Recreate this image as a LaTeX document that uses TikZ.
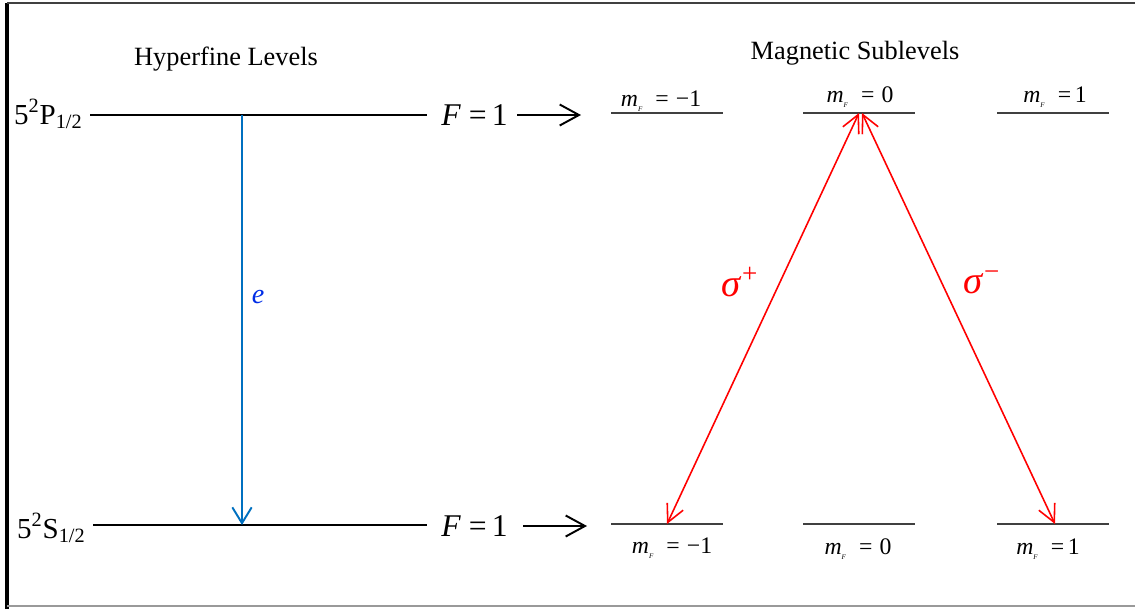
\documentclass[tikz,border=0pt]{standalone}
\usepackage{fontspec}
\setmainfont{Liberation Serif}
\usetikzlibrary{arrows.meta}

\definecolor{eblue}{RGB}{0,112,192}
\definecolor{sigred}{RGB}{255,0,0}

% m_F with its tiny subscript
\newcommand{\mF}{\textit{m}\raisebox{-0.55ex}{\fontsize{4}{4}\selectfont\textit{F}}}

\tikzset{
  level/.style={line width=1.2pt, black},
  sublevel/.style={line width=1.3pt, black!75},
  maplabel/.style={font=\fontsize{18}{20}\selectfont, inner sep=0pt, anchor=base west},
  mlabel/.style={font=\fontsize{13.5}{15}\selectfont, inner sep=0pt, anchor=base},
  statelabel/.style={font=\fontsize{16.5}{18}\selectfont, inner sep=0pt, anchor=base east},
  maparrow/.style={line width=1.1pt, -{Straight Barb[length=11pt,width=12pt]}},
  decay/.style={eblue, line width=1.1pt, -{Straight Barb[length=9pt,width=11pt]}},
  pump/.style={sigred, line width=0.9pt, {Straight Barb[length=10pt,width=10pt]}-{Straight Barb[length=10pt,width=10pt]}}
}

\begin{document}
\begin{tikzpicture}[x=0.02cm, y=-0.02cm]
        \useasboundingbox (0,0) rectangle (1135,609);

        % === FRAME ===
        \draw[line width=1.8pt] (7,609) -- (7,3);
        \draw[line width=1.1pt, black!75] (7,3) -- (1135,3);
        \draw[line width=1.1pt, black!40] (7,606) -- (1135,606);

        % === TITLES ===
        \node[font=\fontsize{15}{17}\selectfont] (hftitle) at (226,59) {Hyperfine Levels};
        \node[font=\fontsize{15}{17}\selectfont] (mstitle) at (855,53) {Magnetic Sublevels};

        % === HYPERFINE LEVELS ===
        \coordinate (pleft) at (90,115);
        \coordinate (pright) at (427,115);
        \coordinate (sleft) at (93,525);
        \coordinate (sright) at (427,525);
        \draw[level] (pleft) -- (pright);
        \draw[level] (sleft) -- (sright);
        \node[statelabel] (plabel) at (83,124) {5\textsuperscript{2}P\textsubscript{1/2}};
        \node[statelabel] (slabel) at (86,538) {5\textsuperscript{2}S\textsubscript{1/2}};

        % === DECAY ===
        \coordinate (etop) at (242,115);
        \coordinate (ebot) at (242,525);
        \draw[decay] (etop) -- (ebot);
        \node[eblue!40!blue, font=\fontsize{16}{18}\selectfont\itshape] (elabel) at (258,297) {e};

        % === F = 1 ===
        \node[maplabel] (fup) at (441,125) {\textit{F} =\,1};
        \node[maplabel] (fdown) at (441,536) {\textit{F} =\,1};
        \coordinate (aupstart) at (517,115);
        \coordinate (aupend) at (581,115);
        \coordinate (adownstart) at (523,526);
        \coordinate (adownend) at (587,526);
        \draw[maparrow] (aupstart) -- (aupend);
        \draw[maparrow] (adownstart) -- (adownend);

        % === MAGNETIC SUBLEVELS ===
        \foreach \xa/\xb/\name in {611/723/m, 803/915/z, 997/1109/p}{
            \draw[sublevel] (\xa,113) coordinate (up\name l) -- (\xb,113) coordinate (up\name r);
            \draw[sublevel] (\xa,524) coordinate (dn\name l) -- (\xb,524) coordinate (dn\name r);
        }
        \node[mlabel] (upmlab) at (661,106) {\mF\hspace{0.55em}=\hspace{0.3em}−1};
        \node[mlabel] (upzlab) at (860,102) {\mF\hspace{0.55em}=\hspace{0.3em}0};
        \node[mlabel] (upplab) at (1055,102) {\mF\hspace{0.55em}=\hspace{0.15em}1};
        \node[mlabel] (dnmlab) at (672,553) {\mF\hspace{0.55em}=\hspace{0.3em}−1};
        \node[mlabel] (dnzlab) at (858,554) {\mF\hspace{0.55em}=\hspace{0.3em}0};
        \node[mlabel] (dnplab) at (1048,554) {\mF\hspace{0.55em}=\hspace{0.15em}1};

        % === PUMPING ===
        \coordinate (topa) at (859,113);
        \coordinate (topb) at (862,113);
        \coordinate (botm) at (667,524);
        \coordinate (botp) at (1055,524);
        \draw[pump] (topa) -- (botm);
        \draw[pump] (topb) -- (botp);
        \node[sigred, font=\fontsize{22}{24}\selectfont] (sigp) at (740,282) {\textit{σ}\textsuperscript{+}};
        \node[sigred, font=\fontsize{22}{24}\selectfont] (sigm) at (982,282) {\textit{σ}\textsuperscript{−}};

\end{tikzpicture}
\end{document}
